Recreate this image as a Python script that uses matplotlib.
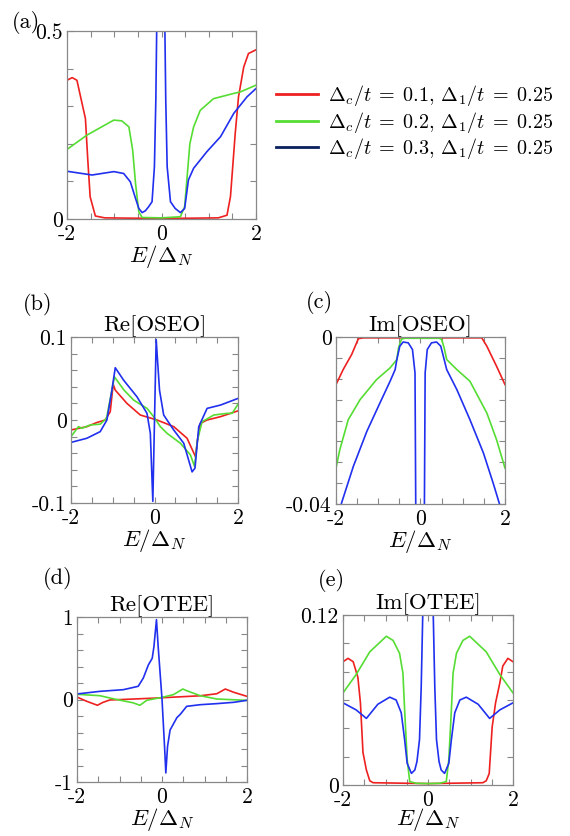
import matplotlib
matplotlib.use('Agg')
import matplotlib.pyplot as plt
from matplotlib.lines import Line2D
import numpy as np

plt.rcParams['font.family'] = 'serif'
plt.rcParams['font.serif'] = ['cmr10']
plt.rcParams['mathtext.fontset'] = 'cm'
plt.rcParams['axes.unicode_minus'] = False

RED = '#ee2020'
GREEN = '#55dd33'
BLUE = '#2030ee'
NAVY = '#0b1f5e'

# ---- panel (a) ----
a_red_x = [-2, -1.89, -1.79, -1.61, -1.56, -1.51, -1.4, -1.2, -0.5, 0, 0.5, 1.2, 1.386, 1.46, 1.56, 1.63, 1.74, 1.84, 2]
a_red_y = [0.369, 0.376, 0.369, 0.267, 0.157, 0.059, 0.008, 0.003, 0.002, 0.002, 0.002, 0.003, 0.01, 0.06, 0.227, 0.325, 0.404, 0.44, 0.45]
a_green_x = [-2, -1.58, -1.01, -0.84, -0.69, -0.61, -0.55, -0.48, -0.41, 0, 0.40, 0.49, 0.60, 0.68, 0.82, 1.1, 1.53, 1.67, 2]
a_green_y = [0.185, 0.223, 0.263, 0.261, 0.245, 0.183, 0.095, 0.019, 0.004, 0.003, 0.006, 0.033, 0.2, 0.245, 0.289, 0.32, 0.334, 0.338, 0.356]
a_blue_x = [-2, -1.47, -1.01, -0.80, -0.66, -0.55, -0.48, -0.41, -0.34, -0.27, -0.2, -0.15, -0.12, -0.10, 0, 0.07, 0.09, 0.12, 0.19, 0.29, 0.40, 0.49, 0.57, 0.68, 0.96, 1.25, 1.53, 1.81, 2]
a_blue_y = [0.127, 0.117, 0.126, 0.121, 0.099, 0.055, 0.028, 0.017, 0.022, 0.033, 0.046, 0.139, 0.316, 0.52, 0.9, 0.52, 0.316, 0.139, 0.046, 0.028, 0.017, 0.028, 0.104, 0.135, 0.179, 0.219, 0.281, 0.325, 0.347]

# ---- panel (b) Re[OSEO] ----
b_red_x = [-2, -1.62, -1.38, -1.18, -1.06, -0.99, -0.94, -0.66, -0.34, 0.06, 0.46, 0.78, 0.98, 1.03, 1.10, 1.26, 1.58, 2]
b_red_y = [-0.012, -0.008, -0.003, 0.0, 0.010, 0.043, 0.036, 0.02, 0.006, 0.0, -0.008, -0.022, -0.044, -0.024, -0.004, 0.0, 0.004, 0.011]
b_green_x = [-2, -1.82, -1.74, -1.54, -1.3, -1.15, -1.02, -0.96, -0.73, -0.5, -0.18, -0.02, 0.14, 0.30, 0.62, 0.86, 0.96, 1.03, 1.14, 1.42, 1.74, 1.86, 2]
b_green_y = [-0.020, -0.008, -0.010, -0.006, -0.005, 0.002, 0.036, 0.052, 0.036, 0.024, 0.014, 0.004, -0.008, -0.016, -0.028, -0.042, -0.056, -0.024, -0.002, 0.006, 0.008, 0.008, 0.019]
b_blue_x = [-2, -1.62, -1.3, -1.14, -1.02, -0.94, -0.74, -0.42, -0.18, -0.10, -0.04, 0.04, 0.12, 0.22, 0.46, 0.70, 0.90, 0.97, 1.06, 1.26, 1.58, 2]
b_blue_y = [-0.027, -0.022, -0.014, 0.0, 0.036, 0.063, 0.048, 0.028, 0.008, -0.016, -0.098, 0.097, 0.036, 0.006, -0.012, -0.028, -0.0625, -0.058, -0.008, 0.014, 0.018, 0.026]

# ---- panel (c) Im[OSEO] ----
c_red_x = [-2, -1.83, -1.63, -1.47, -1.35, 0, 1.45, 1.57, 1.80, 2]
c_red_y = [-0.0114, -0.0078, -0.0042, -0.0004, -0.0002, -0.0002, -0.0002, -0.0022, -0.007, -0.0114]
c_green_x = [-2, -1.91, -1.71, -1.43, -1.04, -0.72, -0.56, -0.52, -0.45, -0.37, 0, 0.45, 0.5, 0.56, 0.62, 0.86, 1.17, 1.57, 1.80, 2]
c_green_y = [-0.0314, -0.027, -0.0198, -0.015, -0.0102, -0.0074, -0.0054, -0.0026, -0.0005, -0.0003, -0.0003, -0.0003, -0.0006, -0.0026, -0.0054, -0.0078, -0.0106, -0.0182, -0.0246, -0.0314]
c_blue_x = [-2, -1.87, -1.59, -1.27, -0.96, -0.72, -0.6, -0.56, -0.49, -0.41, -0.29, -0.19, -0.13, -0.11, 0, 0.09, 0.11, 0.16, 0.26, 0.38, 0.48, 0.56, 0.62, 0.86, 1.17, 1.49, 1.72, 1.87, 2]
c_blue_y = [-0.048, -0.0398, -0.031, -0.0226, -0.0158, -0.0106, -0.0078, -0.0054, -0.0022, -0.0012, -0.0014, -0.003, -0.0086, -0.045, -0.1, -0.045, -0.0086, -0.003, -0.0014, -0.0012, -0.0022, -0.0054, -0.0078, -0.0126, -0.0198, -0.0278, -0.035, -0.0400, -0.048]

# ---- panel (d) Re[OTEE] ----
d_red_x = [-2, -1.78, -1.52, -1.39, -1.23, -0.2, 0.9, 1.29, 1.49, 1.69, 2]
d_red_y = [0.03, -0.02, -0.07, -0.035, -0.006, 0.016, 0.045, 0.07, 0.127, 0.087, 0.038]
d_green_x = [-2, -1.46, -1.07, -0.68, -0.52, -0.48, -0.36, 0, 0.27, 0.49, 0.58, 0.9, 1.29, 2]
d_green_y = [0.063, 0.046, 0.0, -0.04, -0.07, -0.055, -0.01, 0.026, 0.059, 0.127, 0.107, 0.046, 0.006, -0.01]
d_blue_x = [-2, -1.46, -0.91, -0.56, -0.44, -0.32, -0.23, -0.19, -0.13, -0.09, 0, 0.06, 0.09, 0.13, 0.19, 0.35, 0.43, 0.58, 0.9, 1.29, 1.69, 2]
d_blue_y = [0.067, 0.099, 0.119, 0.16, 0.26, 0.42, 0.50, 0.64, 0.968, 0.64, 0.006, -0.57, -0.89, -0.57, -0.37, -0.22, -0.18, -0.083, -0.063, -0.05, -0.034, -0.01]

# ---- panel (e) Im[OTEE] ----
e_red_x = [-2, -1.88, -1.76, -1.65, -1.59, -1.53, -1.45, -1.37, -1.29, 0, 1.29, 1.37, 1.44, 1.51, 1.59, 1.69, 1.76, 1.88, 2]
e_red_y = [0.087, 0.0894, 0.087, 0.076, 0.058, 0.023, 0.0106, 0.003, 0.0016, 0.001, 0.0016, 0.003, 0.008, 0.041, 0.058, 0.072, 0.084, 0.0894, 0.087]
e_green_x = [-2, -1.69, -1.37, -0.98, -0.82, -0.67, -0.59, -0.55, -0.49, -0.43, -0.27, 0, 0.27, 0.43, 0.49, 0.55, 0.59, 0.67, 0.82, 0.98, 1.37, 1.69, 2]
e_green_y = [0.065, 0.078, 0.094, 0.105, 0.102, 0.093, 0.079, 0.053, 0.018, 0.0024, 0.0012, 0.001, 0.0012, 0.0024, 0.018, 0.053, 0.079, 0.093, 0.102, 0.105, 0.094, 0.078, 0.065]
e_blue_x = [-2, -1.69, -1.45, -1.18, -0.9, -0.75, -0.63, -0.55, -0.49, -0.39, -0.31, -0.26, -0.20, -0.16, -0.12, 0, 0.12, 0.16, 0.20, 0.26, 0.31, 0.39, 0.49, 0.55, 0.63, 0.75, 0.9, 1.18, 1.45, 1.69, 2]
e_blue_y = [0.058, 0.053, 0.047, 0.057, 0.062, 0.06, 0.051, 0.032, 0.0153, 0.0082, 0.0106, 0.0165, 0.032, 0.069, 0.125, 0.3, 0.125, 0.069, 0.032, 0.0165, 0.0106, 0.0082, 0.0153, 0.032, 0.051, 0.06, 0.062, 0.057, 0.047, 0.053, 0.058]

labels = [r'$\Delta_c/t\;=\;0.1,\,\Delta_1/t\;=\;0.25$',
          r'$\Delta_c/t\;=\;0.2,\,\Delta_1/t\;=\;0.25$',
          r'$\Delta_c/t\;=\;0.3,\,\Delta_1/t\;=\;0.25$']

W, H = 570, 836
fig = plt.figure(figsize=(5.7, 8.36), dpi=100)


def make_ax(x0, x1, y0, y1):
    return fig.add_axes([x0 / W, 1 - y1 / H, (x1 - x0) / W, (y1 - y0) / H])


def style(ax, ylim, yticks, ylabels, title=None, lpad=-1):
    ax.set_xlim(-2, 2)
    ax.set_ylim(*ylim)
    ax.set_xticks(np.arange(-2, 2.01, 0.5))
    ax.set_xticklabels(['-2', '', '', '', '0', '', '', '', '2'])
    ax.set_yticks(yticks)
    ax.set_yticklabels(ylabels)
    ax.tick_params(direction='in', top=True, right=True, length=4, width=0.8,
                   color='#888888', labelsize=15.5, pad=3)
    ax.tick_params(axis='x', pad=4)
    for s in ax.spines.values():
        s.set_color('#888888')
        s.set_linewidth(0.9)
    ax.set_xlabel(r'$E/\Delta_N$', fontsize=16.5, labelpad=lpad)
    if title:
        ax.set_title(title, fontsize=16.5, pad=4)


def curves(ax, data):
    for (x, y), c in zip(data, [RED, GREEN, BLUE]):
        ax.plot(x, y, color=c, lw=1.2)


ax_a = make_ax(67, 256, 31, 219)
curves(ax_a, [(a_red_x, a_red_y), (a_green_x, a_green_y), (a_blue_x, a_blue_y)])
yt = np.arange(0, 0.501, 0.1)
style(ax_a, (0, 0.5), yt, ['0', '', '', '', '', '0.5'])

ax_b = make_ax(71, 238, 337, 503)
curves(ax_b, [(b_red_x, b_red_y), (b_green_x, b_green_y), (b_blue_x, b_blue_y)])
yt = np.linspace(-0.1, 0.1, 11)
style(ax_b, (-0.1, 0.1), yt, ['-0.1', '', '', '', '', '0', '', '', '', '', '0.1'], 'Re[OSEO]')

ax_c = make_ax(336, 505, 337, 504)
curves(ax_c, [(c_red_x, c_red_y), (c_green_x, c_green_y), (c_blue_x, c_blue_y)])
yt = np.linspace(-0.04, 0, 9)
style(ax_c, (-0.04, 0), yt, ['-0.04', '', '', '', '', '', '', '', '0'], 'Im[OSEO]')

ax_d = make_ax(77, 247, 617, 782)
curves(ax_d, [(d_red_x, d_red_y), (d_green_x, d_green_y), (d_blue_x, d_blue_y)])
yt = np.linspace(-1, 1, 11)
style(ax_d, (-1, 1), yt, ['-1', '', '', '', '', '0', '', '', '', '', '1'], 'Re[OTEE]')

ax_e = make_ax(343, 513, 615, 785)
curves(ax_e, [(e_red_x, e_red_y), (e_green_x, e_green_y), (e_blue_x, e_blue_y)])
yt = np.linspace(0, 0.12, 7)
style(ax_e, (0, 0.12), yt, ['0', '', '', '', '', '', '0.12'], 'Im[OTEE]', lpad=-3)

# panel letters
for t, x, y in [('(a)', 12, 22), ('(b)', 23, 304), ('(c)', 306, 302),
                ('(d)', 43, 578), ('(e)', 318, 580)]:
    fig.text(x / W, 1 - y / H, t, fontsize=16, va='center', ha='left')

handles = [Line2D([], [], color=c, lw=2) for c in [RED, GREEN, NAVY]]
fig.legend(handles, labels, loc='upper left', bbox_to_anchor=(276 / W, 1 - 83 / H),
           frameon=False, fontsize=14.5, handlelength=2.1, handletextpad=0.5,
           labelspacing=0.08, borderpad=0, borderaxespad=0)

fig.savefig('out.png', dpi=100)
